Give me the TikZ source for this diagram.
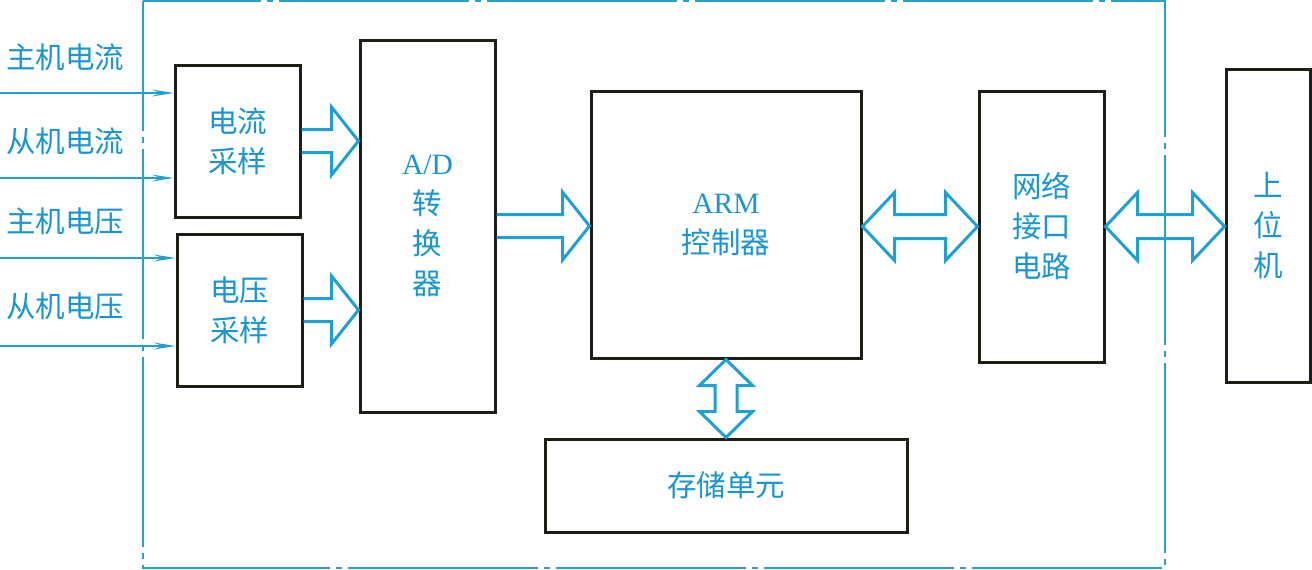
\documentclass[tikz,border=0pt]{standalone}
\usepackage{fontspec}
\newfontfamily\cjk{Noto Sans CJK SC}
\newfontfamily\lat{Liberation Serif}
\usetikzlibrary{arrows.meta,calc}
\definecolor{txtblue}{RGB}{25,150,210}
\definecolor{arrblue}{RGB}{30,160,215}
\definecolor{frameblue}{RGB}{40,160,205}
\definecolor{boxblack}{RGB}{30,30,20}
\tikzset{
  blk/.style={draw=boxblack,line width=3pt,fill=white,inner sep=0pt,align=center,
    text=txtblue,font=\cjk\fontsize{29.5}{40}\selectfont},
  lbl/.style={text=txtblue,font=\cjk\fontsize{29.5}{34}\selectfont,inner sep=0pt},
  hollow/.style={draw=arrblue,line width=3pt,line join=miter,miter limit=10},
  inarrow/.style={draw=arrblue,line width=1.5pt,-{Stealth[length=22pt,width=7pt,inset=9pt]}},
  frame/.style={draw=frameblue,line width=1.8pt,dash pattern=on 190pt off 6pt on 6pt off 6pt,dash phase=60pt}
}
\newcommand\sarrowR[2]{\draw[hollow] let \p1=(#1), \p2=(#2) in
  (\x1,\y1+11.5pt) -- (\x2-27pt,\y1+11.5pt) -- (\x2-27pt,\y1+34pt) -- (\x2,\y1)
  -- (\x2-27pt,\y1-34pt) -- (\x2-27pt,\y1-11.5pt) -- (\x1,\y1-11.5pt);}
\newcommand\darrowH[2]{\draw[hollow] let \p1=(#1), \p2=(#2) in
  (\x1,\y1) -- (\x1+32pt,\y1+34pt) -- (\x1+32pt,\y1+12pt) -- (\x2-32pt,\y1+12pt)
  -- (\x2-32pt,\y1+34pt) -- (\x2,\y1) -- (\x2-32pt,\y1-34pt) -- (\x2-32pt,\y1-12pt)
  -- (\x1+32pt,\y1-12pt) -- (\x1+32pt,\y1-34pt) -- cycle;}
\newcommand\darrowV[2]{\draw[hollow] let \p1=(#1), \p2=(#2) in
  (\x1,\y1) -- (\x1+26.5pt,\y1-26pt) -- (\x1+11pt,\y1-26pt) -- (\x1+11pt,\y2+26pt)
  -- (\x1+26.5pt,\y2+26pt) -- (\x1,\y2) -- (\x1-26.5pt,\y2+26pt) -- (\x1-11pt,\y2+26pt)
  -- (\x1-11pt,\y1-26pt) -- (\x1-26.5pt,\y1-26pt) -- cycle;}
\begin{document}
\begin{tikzpicture}[x=1pt,y=-1pt]
\useasboundingbox[fill=white] (0,0) rectangle (1312,570);
\draw[frame] (143,1) rectangle (1165,568);

\node[blk,minimum width=125pt,minimum height=152pt] (cs) at (237.5,141) {电流\\采样};
\node[blk,minimum width=125pt,minimum height=152pt] (vs) at (239.5,310) {电压\\采样};
\node[blk,minimum width=135pt,minimum height=372pt] (ad) at (427.5,226) {{\lat A/D}\\转\\换\\器};
\node[blk,minimum width=270pt,minimum height=267pt] (arm) at (726,224.5) {{\lat ARM}\\控制器};
\node[blk,minimum width=125pt,minimum height=271pt] (net) at (1041.5,226.5) {网络\\接口\\电路};
\node[blk,minimum width=84pt,minimum height=313pt] (host) at (1268,225.5) {上\\位\\机};
\node[blk,minimum width=362pt,minimum height=93pt] (mem) at (726,485.5) {存储单元};

\node[lbl] (l1) at (65,57) {主机电流};
\node[lbl] (l2) at (65,141) {从机电流};
\node[lbl] (l3) at (65,221) {主机电压};
\node[lbl] (l4) at (65,306) {从机电压};

\coordinate (i1) at (0,93);
\coordinate (i2) at (0,178);
\coordinate (i3) at (0,258);
\coordinate (i4) at (0,346);
\draw[inarrow] (i1) -- (i1 -| cs.west);
\draw[inarrow] (i2) -- (i2 -| cs.west);
\draw[inarrow] (i3) -- (i3 -| vs.west);
\draw[inarrow] (i4) -- (i4 -| vs.west);

\sarrowR{cs.east}{ad.west |- cs.east}
\sarrowR{vs.east}{ad.west |- vs.east}
\sarrowR{ad.east}{arm.west |- ad.east}
\darrowH{arm.east |- net.west}{net.west}
\darrowH{net.east}{host.west |- net.east}
\darrowV{arm.south}{mem.north}
\end{tikzpicture}
\end{document}
